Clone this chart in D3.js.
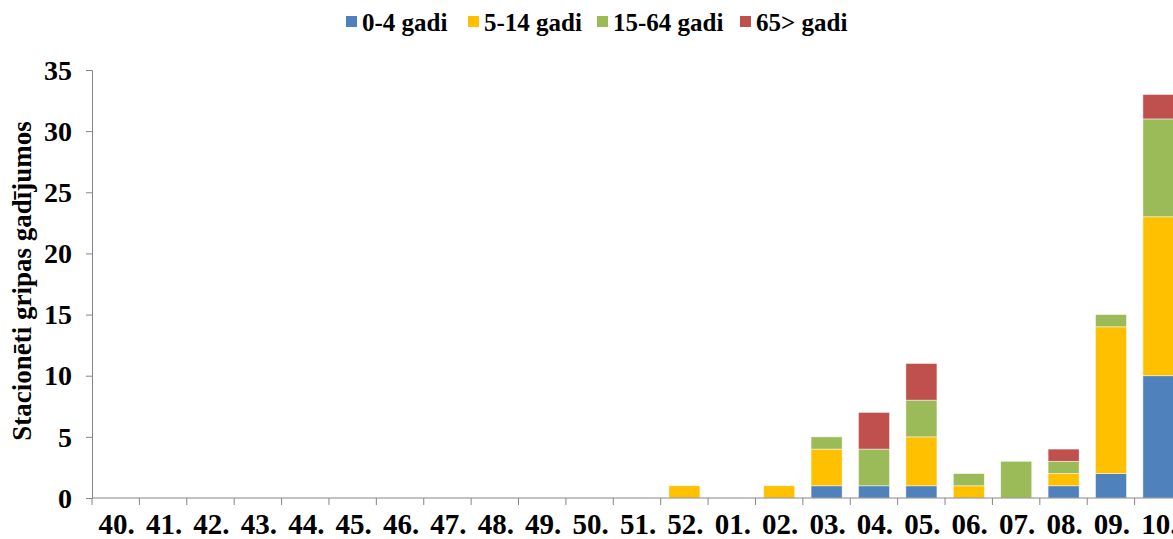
<!DOCTYPE html>
<head>
  <meta charset="utf-8">
  <script src="https://d3js.org/d3.v7.min.js"></script>
  <style>
  *{ margin:0; padding:0; }
  body{ background:#fff; overflow:hidden; }
  text{ font-family:'Liberation Serif','Times New Roman',serif; font-weight:bold; fill:#000; }
  </style>
</head>
<body>
  <svg id="viz"></svg>
  <script>
    // weeks and age groups
    let weeks = ["40.","41.","42.","43.","44.","45.","46.","47.","48.","49.","50.","51.","52.",
                 "01.","02.","03.","04.","05.","06.","07.","08.","09.","10."];
    let groups = ["0-4 gadi","5-14 gadi","15-64 gadi","65> gadi"];
    let colors = ["#4F81BD","#FFC000","#9BBB59","#C0504D"];

    let age0_4   = [0,0,0,0,0,0,0,0,0,0,0,0,0, 0,0,1,1,1,0,0,1, 2,10];
    let age5_14  = [0,0,0,0,0,0,0,0,0,0,0,0,1, 0,1,3,0,4,1,0,1,12,13];
    let age15_64 = [0,0,0,0,0,0,0,0,0,0,0,0,0, 0,0,1,3,3,1,3,1, 1, 8];
    let age65    = [0,0,0,0,0,0,0,0,0,0,0,0,0, 0,0,0,3,3,0,0,1, 0, 2];
    let yTicks = [0,5,10,15,20,25,30,35];

    let W = 1173, H = 539;
    let svg = d3.select("#viz").attr("width", W).attr("height", H);

    // the plot runs past the right edge, like the original
    let x = d3.scaleBand().domain(weeks).range([92, 1182]).paddingInner(0.345).paddingOuter(0.17);
    let xb = d3.scaleBand().domain(weeks).range([92, 1182]);
    let y = d3.scaleLinear().domain([0, 35]).range([498, 70]);

    let table = weeks.map((w, i) => ({
      week: w, g0: age0_4[i], g1: age5_14[i], g2: age15_64[i], g3: age65[i]
    }));
    let stack = d3.stack().keys(["g0","g1","g2","g3"])(table);

    //bars
    svg.append("g").selectAll("g")
      .data(stack)
      .enter().append("g")
      .attr("fill", (d, i) => colors[i])
      .selectAll("rect")
      .data(d => d.filter(p => p[1] - p[0] > 0))
      .enter().append("rect")
      .attr("x", d => x(d.data.week))
      .attr("width", x.bandwidth())
      .attr("y", d => y(d[1]))
      .attr("height", d => y(d[0]) - y(d[1]))
      .attr("stroke", "#fff")
      .attr("stroke-opacity", 0.6)
      .attr("stroke-width", 0.8);

    //y axis
    let ya = svg.append("g").attr("transform", "translate(92,0)")
      .call(d3.axisLeft(y).tickValues(yTicks).tickSize(6).tickPadding(14));
    ya.select(".domain").attr("stroke", "#868686");
    ya.selectAll(".tick line").attr("stroke", "#868686");
    ya.selectAll("text").style("font-size", "28px").attr("dy", "0.33em");

    //x axis with ticks between categories
    let xa = svg.append("g").attr("transform", "translate(0,498)");
    xa.append("line").attr("x1", 92).attr("x2", 1182).attr("stroke", "#868686");
    xa.selectAll("line.tk")
      .data(weeks)
      .enter().append("line")
      .attr("class", "tk")
      .attr("x1", d => xb(d)).attr("x2", d => xb(d))
      .attr("y1", 0).attr("y2", 7)
      .attr("stroke", "#868686");
    xa.selectAll("text")
      .data(weeks)
      .enter().append("text")
      .attr("x", d => xb(d) + xb.bandwidth() / 2 + 1)
      .attr("y", 36)
      .attr("text-anchor", "middle")
      .style("font-size", "29px")
      .text(d => d);

    //y title
    svg.append("text")
      .attr("transform", "translate(31,281) rotate(-90)")
      .attr("text-anchor", "middle")
      .style("font-size", "27px")
      .text("Stacionēti gripas gadījumos");

    //legend
    let legX = [346, 468, 597, 740];
    let leg = svg.append("g").selectAll("g")
      .data(groups)
      .enter().append("g")
      .attr("transform", (d, i) => "translate(" + legX[i] + ",0)");
    leg.append("rect").attr("x", 0).attr("y", 16).attr("width", 11).attr("height", 11)
      .attr("fill", (d, i) => colors[i]);
    leg.append("text").attr("x", 16).attr("y", 31)
      .style("font-size", "25px")
      .text(d => d);
  </script>
</body>
